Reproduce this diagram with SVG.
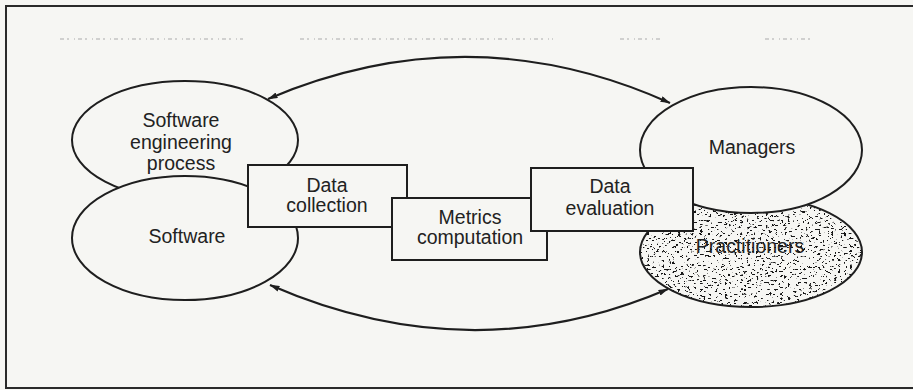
<svg xmlns="http://www.w3.org/2000/svg" width="913" height="390" viewBox="0 0 913 390">
  <style>
    .shape { fill: #f6f6f3; stroke: #1e1e1e; stroke-width: 2; }
    .label { font-family: "Liberation Sans", Arial, Helvetica, sans-serif; font-size: 19.5px; fill: #222; text-anchor: middle; }
    .link { fill: none; stroke: #1e1e1e; stroke-width: 2.2; marker-start: url(#tip); marker-end: url(#tip); }
    .rule { fill: none; stroke: #c4c4c4; stroke-width: 1.3; stroke-dasharray: 4 3 2 5 1 3; }
  </style>
  <defs>
    <marker id="tip" viewBox="0 0 10 6" refX="9.5" refY="3" markerWidth="10" markerHeight="6" markerUnits="userSpaceOnUse" orient="auto-start-reverse">
      <path d="M0,0 L10,3 L0,6 z" fill="#1e1e1e"/>
    </marker>
    <!-- random speckle used as the stippled fill -->
    <filter id="grain" x="0" y="0" width="100%" height="100%">
      <feTurbulence type="fractalNoise" baseFrequency="0.32 0.45" numOctaves="3" seed="11" result="noise"/>
      <feColorMatrix in="noise" type="matrix" values="0 0 0 0 0  0 0 0 0 0  0 0 0 0 0  -22 0 0 0 8.2" result="dots"/>
      <feComposite in="SourceGraphic" in2="dots" operator="in"/>
    </filter>
  </defs>

  <!-- paper -->
  <rect width="913" height="390" fill="#f6f6f3"/>

  <!-- frame (open on the right) -->
  <path d="M913,6 H6 V388 H913" fill="none" stroke="#2a2a2a" stroke-width="2"/>

  <!-- faint rule near the top -->
  <g id="top-rule">
    <path class="rule" d="M60,39 H243 M300,39 H553 M620,39 H660 M765,39 H815"/>
  </g>

  <g id="se-process">
    <ellipse class="shape" cx="185" cy="140" rx="113" ry="59"/>
    <text class="label" x="181" y="127">Software</text>
    <text class="label" x="181" y="148.5">engineering</text>
    <text class="label" x="181" y="170">process</text>
  </g>

  <g id="software">
    <ellipse class="shape" cx="185" cy="238" rx="113" ry="62"/>
    <text class="label" x="187" y="243">Software</text>
  </g>

  <g id="practitioners">
    <ellipse cx="751" cy="252" rx="111" ry="55" fill="#f6f6f3"/>
    <ellipse cx="751" cy="252" rx="111" ry="55" fill="#151515" filter="url(#grain)"/>
    <ellipse cx="751" cy="252" rx="111" ry="55" fill="none" stroke="#1e1e1e" stroke-width="2"/>
    <text class="label" x="750" y="253">Practitioners</text>
  </g>

  <g id="managers">
    <ellipse class="shape" cx="751" cy="150" rx="111" ry="63"/>
    <text class="label" x="752" y="154">Managers</text>
  </g>

  <g id="data-collection">
    <rect class="shape" x="248" y="165" width="159" height="62"/>
    <text class="label" x="327" y="192">Data</text>
    <text class="label" x="327" y="212">collection</text>
  </g>

  <g id="metrics-computation">
    <rect class="shape" x="392" y="198" width="155" height="62"/>
    <text class="label" x="470" y="224">Metrics</text>
    <text class="label" x="470" y="244">computation</text>
  </g>

  <g id="data-evaluation">
    <rect class="shape" x="531" y="168" width="162" height="63"/>
    <text class="label" x="610" y="193">Data</text>
    <text class="label" x="610" y="215">evaluation</text>
  </g>

  <g id="connectors">
    <path class="link" d="M268,99 Q470,13 670,103"/>
    <path class="link" d="M270,285 Q472,373 668,289"/>
  </g>
</svg>
